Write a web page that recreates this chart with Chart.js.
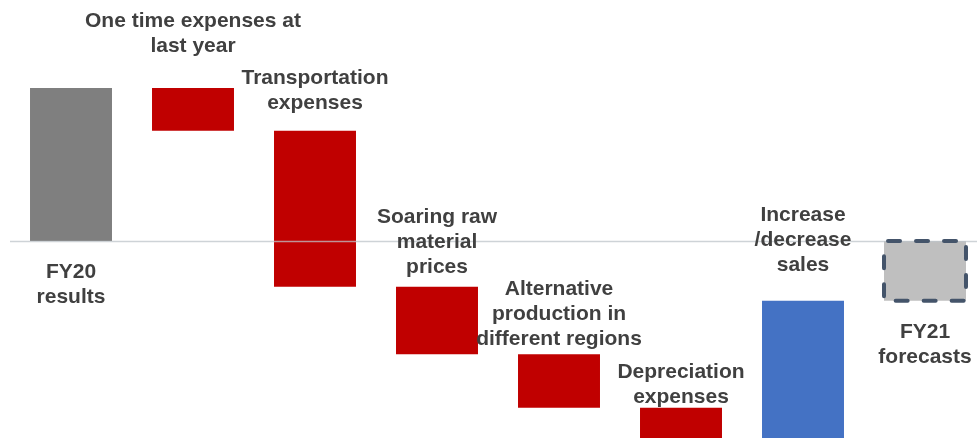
<!DOCTYPE html>
<html>
<head>
<meta charset="utf-8">
<title>FY20 to FY21 bridge</title>
<script src="https://cdn.jsdelivr.net/npm/chart.js@4.4.1/dist/chart.umd.min.js"></script>
<style>
    html, body { margin: 0; padding: 0; background: #fff; overflow: hidden; }
    #wrap { position: relative; width: 986px; height: 470px; }
</style>
</head>
<body>
<div id="wrap"><canvas id="bridge"></canvas></div>
<script>
// Steps from last year's result to this year's forecast
const categories = [
    ['FY20', 'results'],
    ['One time expenses at', 'last year'],
    ['Transportation', 'expenses'],
    ['Soaring raw', 'material', 'prices'],
    ['Alternative', 'production in', 'different regions'],
    ['Depreciation', 'expenses'],
    ['Increase', '/decrease', 'sales'],
    ['FY21', 'forecasts']
];
const startValue = 100;
const changes = [-28, -102, -44, -35, -20, 90];

// floating bars: [from, to] for every step, totals start at zero
const floating = [[0, startValue]];
let running = startValue;
changes.forEach(c => {
    floating.push([running, running + c]);
    running += c;
});
floating.push([0, running]);

const TOTAL = '#7f7f7f';
const DOWN = '#c00000';
const UP = '#4472c4';
const FORECAST = '#bfbfbf';

const colors = floating.map((pair, i) => {
    if (i === 0) return TOTAL;
    if (i === floating.length - 1) return FORECAST;
    return pair[1] < pair[0] ? DOWN : UP;
});

// label gap from the bar edge to the nearest baseline (totals go under the bar)
const labelGap = [37, 36, 22, 14, 9, 5, 30, 37];
const LINE = 25;

const bridgePlugin = {
    id: 'bridgePlugin',
    afterDatasetsDraw(chart) {
        const ctx = chart.ctx;
        const area = chart.chartArea;
        const y = chart.scales.y;
        const meta = chart.getDatasetMeta(0);

        // baseline at zero, on top of the bars
        const y0 = Math.round(y.getPixelForValue(0)) + 0.5;
        ctx.save();
        ctx.strokeStyle = 'rgba(190, 196, 202, 0.75)';
        ctx.lineWidth = 1.5;
        ctx.beginPath();
        ctx.moveTo(area.left, y0);
        ctx.lineTo(area.right, y0);
        ctx.stroke();

        // dashed frame round the forecast bar
        const last = meta.data[meta.data.length - 1];
        const top = Math.min(last.y, last.base);
        const h = Math.abs(last.base - last.y);
        ctx.strokeStyle = '#44546a';
        ctx.lineWidth = 4;
        ctx.lineCap = 'round';
        ctx.setLineDash([12, 16]);
        ctx.lineDashOffset = -4;
        ctx.strokeRect(last.x - last.width / 2, top, last.width, h);
        ctx.setLineDash([]);

        // step names
        ctx.font = 'bold 21px "Liberation Sans", Arial, sans-serif';
        ctx.fillStyle = '#404040';
        ctx.textAlign = 'center';
        ctx.textBaseline = 'alphabetic';
        meta.data.forEach((bar, i) => {
            const lines = categories[i];
            const isTotal = i === 0 || i === meta.data.length - 1;
            const barTop = Math.min(bar.y, bar.base);
            const barBottom = Math.max(bar.y, bar.base);
            lines.forEach((text, j) => {
                let ty;
                if (isTotal) {
                    ty = barBottom + labelGap[i] + j * LINE;
                } else {
                    ty = barTop - labelGap[i] - (lines.length - 1 - j) * LINE;
                }
                ctx.fillText(text, bar.x, ty);
            });
        });
        ctx.restore();
    }
};

new Chart(document.getElementById('bridge').getContext('2d'), {
    type: 'bar',
    data: {
        labels: categories.map(c => c.join(' ')),
        datasets: [{
            data: floating,
            backgroundColor: colors,
            borderWidth: 0,
            borderSkipped: false,
            barPercentage: 0.672,
            categoryPercentage: 1
        }]
    },
    options: {
        responsive: true,
        maintainAspectRatio: false,
        animation: false,
        layout: { padding: { left: 10, right: 0, top: 0, bottom: 0 } },
        plugins: {
            legend: { display: false },
            tooltip: { enabled: false }
        },
        scales: {
            x: { display: false },
            y: { display: false, min: -149.7, max: 157.5 }
        }
    },
    plugins: [bridgePlugin]
});
</script>
</body>
</html>
